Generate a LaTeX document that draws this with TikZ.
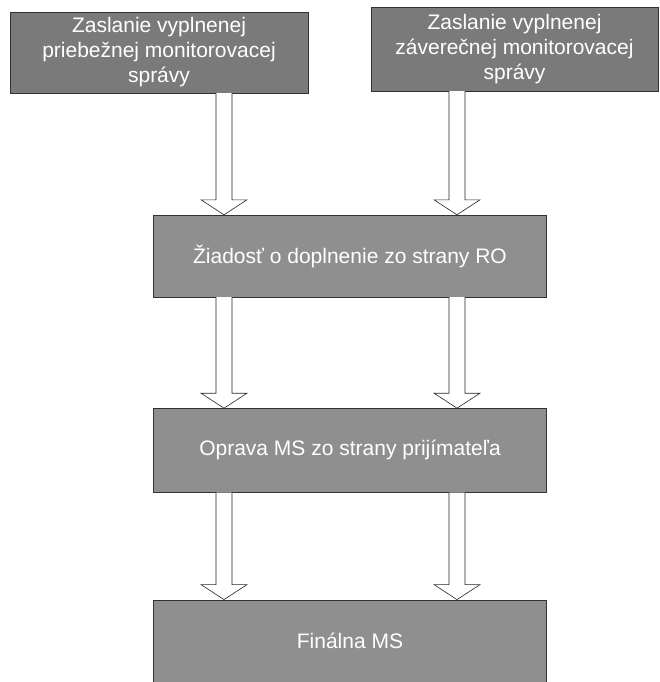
\documentclass[tikz,border=0pt]{standalone}
\usepackage{fontspec}
\setmainfont{Liberation Sans}
\usetikzlibrary{positioning,calc}

\definecolor{topgray}{RGB}{122,122,122}
\definecolor{midgray}{RGB}{143,143,143}

% hollow block arrow from #1 down to #2
\newcommand{\blockarrow}[2]{%
	\draw[blockarr] let \p1=(#1), \p2=(#2) in
		(\x1-8pt,\y1) -- (\x1-8pt,\y2+15pt) -- (\x1-23pt,\y2+15pt) -- (\x2,\y2)
		-- (\x1+23pt,\y2+15pt) -- (\x1+8pt,\y2+15pt) -- (\x1+8pt,\y1);
}

\begin{document}
\begin{tikzpicture}[
		x=1pt, y=-1pt,
		every node/.style={
			rectangle,
			draw=black!80,
			text=white,
			align=center,
			font=\fontsize{21}{25}\selectfont
		},
		topbox/.style={
			fill=topgray
		},
		midbox/.style={
			fill=midgray,
			minimum width=393pt,
			minimum height=84pt
		},
		blockarr/.style={
			draw=black!85,
			fill=white,
			line width=0.6pt,
			line join=miter
		}]

		\useasboundingbox (0,0) rectangle (660,682);

		\coordinate (colL) at (224,0);
		\coordinate (colR) at (457,0);

		%boxes
		\node[topbox, minimum width=298pt, minimum height=81pt] at (159,52.5) (zpriebezna) {Zaslanie vyplnenej\\priebežnej monitorovacej\\správy};
		\node[topbox, minimum width=287pt, minimum height=84pt] at (514.5,49) (zzaverecna) {Zaslanie vyplnenej\\záverečnej monitorovacej\\správy};

		\node[midbox, minimum height=82pt] at (350,256) (ziadost) {Žiadosť o doplnenie zo strany RO};
		\node[midbox, below=111pt of ziadost] (oprava) {Oprava MS zo strany prijímateľa};
		\node[midbox, below=107pt of oprava, minimum height=82pt] (finalna) {Finálna MS};

		%arrows
		\blockarrow{zpriebezna.south -| colL}{ziadost.north -| colL}
		\blockarrow{zzaverecna.south -| colR}{ziadost.north -| colR}
		\blockarrow{ziadost.south -| colL}{oprava.north -| colL}
		\blockarrow{ziadost.south -| colR}{oprava.north -| colR}
		\blockarrow{oprava.south -| colL}{finalna.north -| colL}
		\blockarrow{oprava.south -| colR}{finalna.north -| colR}

	\end{tikzpicture}
\end{document}
